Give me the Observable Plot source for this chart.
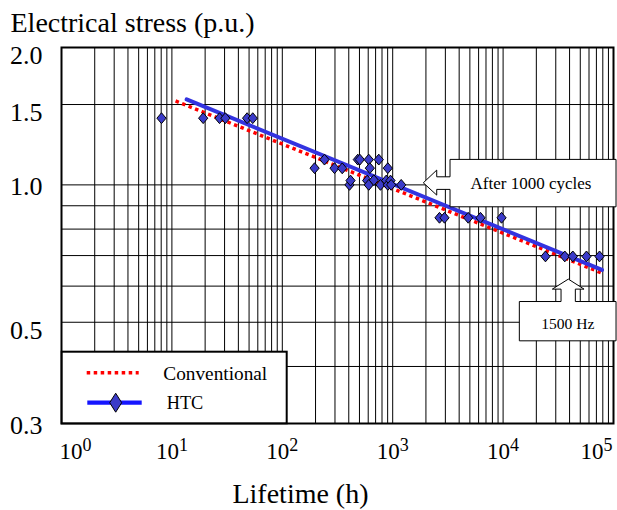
<!DOCTYPE html>
<html><head><meta charset="utf-8">
<script src="https://cdn.jsdelivr.net/npm/d3@7"></script>
<script src="https://cdn.jsdelivr.net/npm/@observablehq/plot@0.6"></script>
<style>
body{margin:0;background:#fff;}
#chart svg{display:block;}
</style>
</head><body>
<div id="chart"></div>
<script>
// HTC test points: lifetime (h) and electrical stress (p.u.)
const htcHours = [8.05, 19.2, 27, 30.5, 48, 54,
  196, 241, 297, 349, 406, 415, 483, 504, 587, 607, 607, 621, 675, 748, 775, 873, 903, 903, 955, 969, 1194,
  2654, 2945, 4830, 6240, 9680,
  24200, 36200, 42800, 56900, 74700];
const htcStress = [1.40, 1.40, 1.40, 1.40, 1.40, 1.40,
  1.088, 1.136, 1.088, 1.087, 1.0, 1.022, 1.136, 1.136, 1.022, 1.136, 1.0, 1.088, 1.024, 1.136, 1.0, 1.022, 1.088, 1.0, 1.022, 1.0, 1.0,
  0.847, 0.847, 0.847, 0.847, 0.847,
  0.697, 0.697, 0.697, 0.697, 0.697];
// fitted lines (end points)
const convHours = [10.8, 81000];
const convStress = [1.527, 0.639];
const htcFitHours = [13.6, 78700];
const htcFitStress = [1.539, 0.651];
// axes
const xTickValues = [1, 10, 100, 1000, 10000, 100000];
const yTickLabelsA = [2.0, 1.5, 0.5];
const yTickLabelsB = [1.0, 0.3];
const yGridValues = [0.3, 0.4, 0.5, 0.6, 0.7, 0.8, 0.9, 1.0, 1.5, 2.0];
const xGridValues = [1,2,3,4,5,6,7,8,9,10,20,30,40,50,60,70,80,90,100,200,300,400,500,600,700,800,900,
  1000,2000,3000,4000,5000,6000,7000,8000,9000,10000,20000,30000,40000,50000,60000,70000,80000,90000,100000];
// legend & annotations
const seriesNames = ["Conventional", "HTC"];
const noteTexts = ["After 1000 cycles", "1500 Hz"];
const noteHours = [1914, 39400];
const noteStress = [1.008, 0.62];

const points = htcHours.map((h, i) => ({h, s: htcStress[i]}));
const conv = convHours.map((h, i) => ({h, s: convStress[i]}));
const fit = htcFitHours.map((h, i) => ({h, s: htcFitStress[i]}));

const FONT = '"Liberation Serif", "Times New Roman", serif';
const diamond = {
  draw(ctx, size) {
    const r = Math.sqrt(size / Math.PI);
    ctx.moveTo(0, -r * 1.18); ctx.lineTo(r, 0); ctx.lineTo(0, r * 1.18); ctx.lineTo(-r, 0); ctx.closePath();
  }
};
const expFmt = d => "10^" + Math.round(Math.log10(d));

const chart = Plot.plot({
  width: 617, height: 510,
  marginLeft: 61, marginRight: 4, marginTop: 47, marginBottom: 87,
  style: {fontFamily: FONT, background: "#fff", color: "#000", overflow: "visible"},
  x: {type: "log", domain: [1, 1e5]},
  y: {type: "log", domain: [0.3, 2.0]},
  marks: [
    Plot.gridX({ticks: xGridValues, stroke: "#000", strokeOpacity: 1, strokeWidth: 1}),
    Plot.gridY({ticks: yGridValues, stroke: "#000", strokeOpacity: 1, strokeWidth: 1}),
    Plot.axisY({ticks: yTickLabelsA, tickSize: 0, tickPadding: 19, tickFormat: d3.format(".1f"), fontSize: 26, dy: 8, label: null}),
    Plot.axisY({ticks: yTickLabelsB, tickSize: 0, tickPadding: 19, tickFormat: d3.format(".1f"), fontSize: 26, dy: 2, label: null}),
    Plot.axisX({ticks: xTickValues.slice(0, 1), tickSize: 0, tickPadding: 19, tickFormat: expFmt, fontSize: 23, textAnchor: "start", dx: -2, label: null}),
    Plot.axisX({ticks: xTickValues.slice(1, 5), tickSize: 0, tickPadding: 19, tickFormat: expFmt, fontSize: 23, label: null}),
    Plot.axisX({ticks: xTickValues.slice(5), tickSize: 0, tickPadding: 19, tickFormat: expFmt, fontSize: 23, textAnchor: "end", dx: -1, label: null}),
    Plot.line(conv, {x: "h", y: "s", stroke: "#ff0000", strokeWidth: 3.5, strokeDasharray: "3.5,3.5", strokeLinecap: "butt"}),
    Plot.line(fit, {x: "h", y: "s", stroke: "#3333e0", strokeWidth: 4}),
    Plot.dot(points, {x: "h", y: "s", symbol: diamond, r: 4.6, fill: "#3b3bc9", stroke: "#000", strokeWidth: 1}),
    Plot.frame({stroke: "#000", strokeWidth: 2}),
    Plot.text(["Electrical stress (p.u.)"], {frameAnchor: "top-left", textAnchor: "start", lineAnchor: "middle", dx: -51, dy: -24, fontSize: 28}),
    Plot.text(["Lifetime (h)"], {frameAnchor: "bottom", textAnchor: "middle", lineAnchor: "middle", dx: -37, dy: 71, fontSize: 28})
  ]
});

const svg = d3.select(chart);
// make sure the conventional fit is drawn dotted
svg.selectAll('[stroke="#ff0000"]').attr("stroke-dasharray", "3.5,3.5").attr("stroke-linecap", "butt");
svg.selectAll('[stroke="#ff0000"] path').attr("stroke-dasharray", "3.5,3.5");
// superscripts on the x tick labels
svg.selectAll("text").each(function() {
  const m = /^10\^(\d)$/.exec(this.textContent);
  if (m) {
    const s = d3.select(this);
    s.text("");
    s.append("tspan").text("10");
    s.append("tspan").attr("dy", -8).attr("font-size", 18).text(m[1]);
  }
});

const xs = chart.scale("x"), ys = chart.scale("y");
const [X0, X1] = xs.range;
const Y1 = ys.range[0];
const g = svg.append("g").attr("font-family", FONT).attr("text-anchor", "start");

// Callout 1: box to the right, arrow pointing left
{
  const tx = xs.apply(noteHours[0]), ty = ys.apply(noteStress[0]);
  const bx = tx + 26.7, bw = 166, bh = 47.4, by = ty - 23.4;
  const hb = tx + 13.4;
  const path = [[bx, by], [bx + bw, by], [bx + bw, by + bh], [bx, by + bh], [bx, ty + 6.6], [hb, ty + 6.6], [hb, ty + 12.3], [tx, ty], [hb, ty - 12.7], [hb, ty - 6], [bx, ty - 6]];
  g.append("path").attr("d", "M" + path.join("L") + "Z").attr("fill", "#fff").attr("stroke", "#000").attr("stroke-width", 1);
  g.append("text").attr("x", bx + 81).attr("y", by + 29.5).attr("text-anchor", "middle").attr("font-size", 17).text(noteTexts[0]);
}
// Callout 2: box below, arrow pointing up
{
  const tx = xs.apply(noteHours[1]), ty = ys.apply(noteStress[1]);
  const by = ty + 22.4, bh = 39.3, bx = tx - 49, bw = 96.7;
  const hy = ty + 10;
  const path = [[bx, by], [tx - 7.3, by], [tx - 7.3, hy], [tx - 16, hy], [tx, ty], [tx + 15.7, hy], [tx + 7, hy], [tx + 7, by], [bx + bw, by], [bx + bw, by + bh], [bx, by + bh]];
  g.append("path").attr("d", "M" + path.join("L") + "Z").attr("fill", "#fff").attr("stroke", "#000").attr("stroke-width", 1);
  g.append("text").attr("x", tx - 0.5).attr("y", by + 27).attr("text-anchor", "middle").attr("font-size", 15.6).text(noteTexts[1]);
}
// Legend
{
  const lx = X0 + 0.7, lw = 225, lh = 71.6, ly = Y1 + 0.3 - lh;
  g.append("rect").attr("x", lx).attr("y", ly).attr("width", lw).attr("height", lh).attr("fill", "#fff").attr("stroke", "#000").attr("stroke-width", 2);
  const r1 = ly + 21, r2 = ly + 51;
  g.append("line").attr("x1", lx + 25).attr("x2", lx + 77).attr("y1", r1).attr("y2", r1).attr("stroke", "#ff0000").attr("stroke-width", 3.5).attr("stroke-dasharray", "3.5,3.5");
  g.append("text").attr("x", lx + 101.6).attr("y", r1 + 7.3).attr("text-anchor", "start").attr("font-size", 19.3).text(seriesNames[0]);
  g.append("line").attr("x1", lx + 25.6).attr("x2", lx + 80).attr("y1", r2).attr("y2", r2).attr("stroke", "#1515ff").attr("stroke-width", 4.3);
  const dx = lx + 54;
  g.append("path").attr("d", `M${dx},${r2 - 9.5}L${dx + 6},${r2}L${dx},${r2 + 9.5}L${dx - 6},${r2}Z`).attr("fill", "#3b3bc9").attr("stroke", "#000").attr("stroke-width", 1);
  g.append("text").attr("x", lx + 105).attr("y", r2 + 6.6).attr("text-anchor", "start").attr("font-size", 18.3).text(seriesNames[1]);
}

document.getElementById("chart").appendChild(chart);
</script>
</body></html>
